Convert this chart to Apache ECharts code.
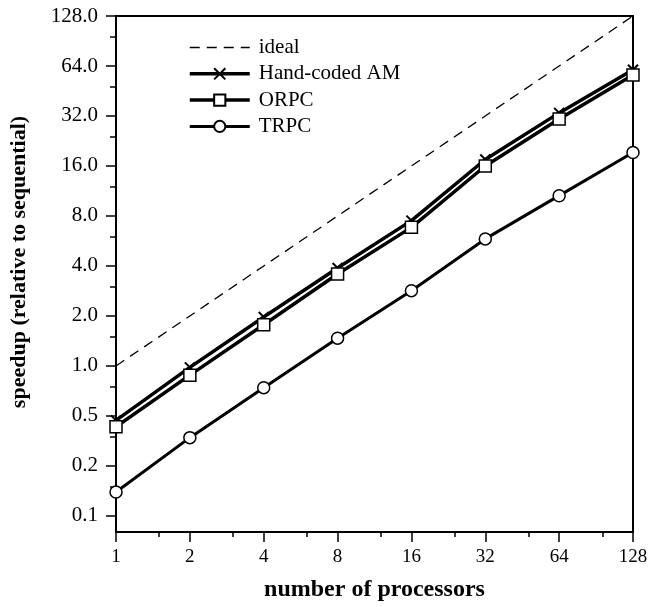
<!DOCTYPE html>
<html>
<head>
<meta charset="utf-8">
<script src="https://cdn.jsdelivr.net/npm/echarts@6/dist/echarts.min.js"></script>
<style>
html,body{margin:0;padding:0;background:#fff;}
#chart{width:664px;height:607px;}
</style>
</head>
<body>
<div id="chart"></div>
<script>
// ---- data ----
var processors = [1, 2, 4, 8, 16, 32, 64, 128];
var ideal      = [1, 2, 4, 8, 16, 32, 64, 128];
var handAM     = [0.47, 0.98, 1.97, 3.89, 7.5, 17.5, 33.4, 60.8];
var orpc       = [0.43, 0.88, 1.77, 3.58, 6.83, 16.0, 30.7, 56.5];
var trpc       = [0.174, 0.37, 0.74, 1.47, 2.84, 5.82, 10.6, 19.3];
var yTickValues = [0.125, 0.25, 0.5, 1, 2, 4, 8, 16, 32, 64, 128];
var yTickLabels = ['0.1', '0.2', '0.5', '1.0', '2.0', '4.0', '8.0', '16.0', '32.0', '64.0', '128.0'];
var xTickLabels = ['1', '2', '4', '8', '16', '32', '64', '128'];
var seriesNames = ['ideal', 'Hand-coded AM', 'ORPC', 'TRPC'];

function pairs(ys) { return processors.map(function (p, i) { return [p, ys[i]]; }); }
// minor ticks sit half way (in value) between neighbouring major ticks
var yMinorValues = [];
for (var k = 1; k < yTickValues.length; k++) yMinorValues.push((yTickValues[k - 1] + yTickValues[k]) / 2);

var FONT = '"Liberation Serif", "DejaVu Serif", serif';
var chart = echarts.init(document.getElementById('chart'), null, {renderer: 'canvas'});

function yLabel(v) {
  for (var i = 0; i < yTickValues.length; i++) {
    if (Math.abs(v - yTickValues[i]) / yTickValues[i] < 1e-6) return yTickLabels[i];
  }
  return '';
}
function xLabel(v) {
  for (var i = 0; i < processors.length; i++) {
    if (Math.abs(v - processors[i]) / processors[i] < 1e-6) return xTickLabels[i];
  }
  return '';
}

var crossPath = 'path://M0,0L10,10M10,0L0,10';
var AXW = 2;

chart.setOption({
  backgroundColor: '#fff',
  animation: false,
  grid: {
    left: 116, right: 31, top: 16, bottom: 74,
    show: true, borderColor: '#000', borderWidth: AXW, backgroundColor: 'transparent'
  },
  legend: {
    orient: 'vertical',
    left: 188, top: 37, padding: 0,
    itemWidth: 60, itemHeight: 14, itemGap: 5.3,
    lineStyle: {width: 'inherit', type: 'inherit'},
    data: [
      {name: seriesNames[0], itemStyle: {color: 'rgba(0,0,0,0)', borderColor: 'rgba(0,0,0,0)', borderWidth: 0}},
      {name: seriesNames[1]},
      {name: seriesNames[2]},
      {name: seriesNames[3]}
    ],
    textStyle: {fontFamily: FONT, fontSize: 21, color: '#000', padding: [0, 0, 0, 4]}
  },
  xAxis: {
    type: 'log', logBase: 2, min: 1, max: 128, splitNumber: 7,
    name: 'number of processors', nameLocation: 'middle', nameGap: 46,
    nameTextStyle: {fontFamily: FONT, fontSize: 24, fontWeight: 'bold', color: '#000'},
    axisLine: {show: true, lineStyle: {color: '#000', width: AXW}},
    axisTick: {show: true, length: 10, inside: false, lineStyle: {color: '#000', width: 1.5}},
    minorTick: {show: true, splitNumber: 2, length: 5, lineStyle: {color: '#000', width: 1.5}},
    splitLine: {show: false}, minorSplitLine: {show: false},
    axisLabel: {fontFamily: FONT, fontSize: 19, color: '#000', margin: 16, formatter: xLabel}
  },
  yAxis: [
    {
      type: 'log', logBase: 2, min: 0.1, max: 128,
      name: 'speedup (relative to sequential)', nameLocation: 'middle', nameGap: 86, nameRotate: 90,
      nameTextStyle: {fontFamily: FONT, fontSize: 22, fontWeight: 'bold', color: '#000', padding: [0, 0, 0, 24]},
      axisLine: {show: true, lineStyle: {color: '#000', width: AXW}},
      axisTick: {show: true, length: 10, inside: false, customValues: yTickValues, lineStyle: {color: '#000', width: 1.5}},
      minorTick: {show: false},
      splitLine: {show: false}, minorSplitLine: {show: false},
      axisLabel: {fontFamily: FONT, fontSize: 21, color: '#000', margin: 18, customValues: yTickValues, formatter: yLabel}
    },
    {
      type: 'log', logBase: 2, min: 0.1, max: 128, position: 'left',
      axisLine: {show: false},
      axisTick: {show: true, length: 6, inside: false, customValues: yMinorValues, lineStyle: {color: '#000', width: 1.5}},
      minorTick: {show: false},
      splitLine: {show: false}, minorSplitLine: {show: false},
      axisLabel: {show: false}
    }
  ],
  series: [
    {
      name: seriesNames[0], type: 'line', data: pairs(ideal),
      symbol: 'none', showSymbol: false,
      lineStyle: {color: '#000', width: 1.3, type: [10, 7]},
      itemStyle: {color: '#000'}
    },
    {
      name: seriesNames[1], type: 'line', data: pairs(handAM),
      symbol: crossPath, symbolSize: 10, showSymbol: true,
      lineStyle: {color: '#000', width: 3.5},
      itemStyle: {color: '#000', borderColor: '#000', borderWidth: 2}
    },
    {
      name: seriesNames[2], type: 'line', data: pairs(orpc),
      symbol: 'rect', symbolSize: 12, showSymbol: true,
      lineStyle: {color: '#000', width: 3.5},
      itemStyle: {color: '#fff', borderColor: '#000', borderWidth: 1.5}
    },
    {
      name: seriesNames[3], type: 'line', data: pairs(trpc),
      symbol: 'circle', symbolSize: 12, showSymbol: true,
      lineStyle: {color: '#000', width: 3},
      itemStyle: {color: '#fff', borderColor: '#000', borderWidth: 1.5}
    }
  ]
});
</script>
</body>
</html>
